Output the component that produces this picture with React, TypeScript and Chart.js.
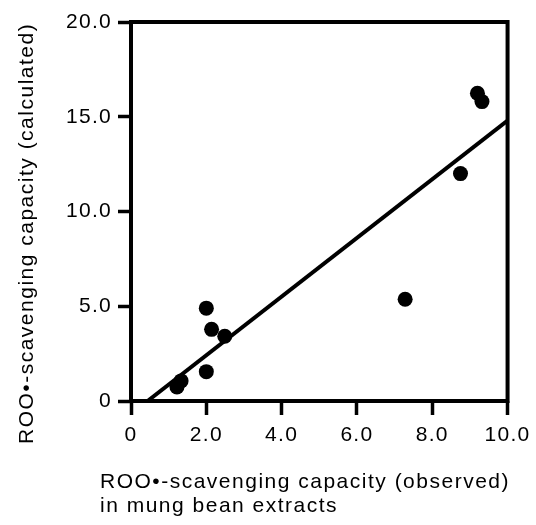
import React, { useEffect, useRef } from "react";
import { Chart, registerables } from "chart.js";

Chart.register(...registerables);

// Observed (x) vs calculated (y) ROO•-scavenging capacity
const observedValues = [1.22, 1.33, 2.0, 2.0, 2.14, 2.49, 7.28, 8.75, 9.2, 9.32];
const calculatedValues = [0.74, 1.06, 1.55, 4.9, 3.78, 3.42, 5.37, 12.0, 16.24, 15.8];

// Regression line end points
const fitX = [0.44, 10];
const fitY = [0, 14.8];

const xTickValues = [0, 2, 4, 6, 8, 10];
const xTickLabels = ["0", "2.0", "4.0", "6.0", "8.0", "10.0"];
const yTickValues = [0, 5, 10, 15, 20];
const yTickLabels = ["0", "5.0", "10.0", "15.0", "20.0"];

const xTitleLines = ["ROO•-scavenging capacity (observed)", "in mung bean extracts"];
const yTitle = "ROO•-scavenging capacity (calculated)";

const FONT = '"Liberation Sans", Arial, Helvetica, sans-serif';
const LS = "1.3px";
const TITLE_LS = "1.5px";

export default function App() {
  const ref = useRef<HTMLCanvasElement | null>(null);

  useEffect(() => {
    if (!ref.current) return;
    const deco = {
      id: "deco",
      beforeDraw(chart: any) {
        chart.ctx.letterSpacing = LS;
      },
      afterDraw(chart: any) {
        const ctx = chart.ctx as CanvasRenderingContext2D;
        const a = chart.chartArea;
        ctx.save();
        ctx.strokeStyle = "#000";
        ctx.lineWidth = 4;
        ctx.strokeRect(a.left, a.top, a.right - a.left, a.bottom - a.top);
        ctx.fillStyle = "#000";
        ctx.font = `21px ${FONT}`;
        (ctx as any).letterSpacing = TITLE_LS;
        ctx.textAlign = "left";
        ctx.textBaseline = "alphabetic";
        ctx.fillText(xTitleLines[0], 100, 488);
        ctx.fillText(xTitleLines[1], 100, 512);
        ctx.translate(33, 444);
        ctx.rotate(-Math.PI / 2);
        ctx.fillText(yTitle, 0, 0);
        ctx.restore();
        (ctx as any).letterSpacing = "0px";
      },
    };

    const chart = new Chart(ref.current, {
      type: "scatter",
      data: {
        datasets: [
          {
            type: "scatter",
            data: observedValues.map((x, i) => ({ x, y: calculatedValues[i] })),
            backgroundColor: "#000",
            borderColor: "#000",
            borderWidth: 0,
            pointRadius: 7.5,
          },
          {
            type: "line",
            data: fitX.map((x, i) => ({ x, y: fitY[i] })),
            borderColor: "#000",
            borderWidth: 4,
            pointRadius: 0,
            fill: false,
          } as any,
        ],
      },
      options: {
        responsive: false,
        animation: false,
        layout: { padding: { top: 22, right: 24, left: 0, bottom: 0 } },
        plugins: { legend: { display: false }, tooltip: { enabled: false }, title: { display: false } },
        scales: {
          x: {
            type: "linear",
            min: 0,
            max: 10,
            afterFit(scale: any) {
              scale.height = 124;
            },
            afterBuildTicks(scale: any) {
              scale.ticks = xTickValues.map((v) => ({ value: v }));
            },
            ticks: {
              autoSkip: false,
              maxRotation: 0,
              padding: 8,
              color: "#000",
              font: { size: 21, family: FONT },
              callback: (v: any) => xTickLabels[xTickValues.indexOf(Number(v))] ?? "",
            },
            grid: {
              drawOnChartArea: false,
              drawTicks: true,
              tickLength: 14,
              tickWidth: 3.5,
              tickColor: "#000",
            },
            border: { display: false },
          },
          y: {
            type: "linear",
            min: 0,
            max: 20,
            afterFit(scale: any) {
              scale.width = 131;
            },
            afterBuildTicks(scale: any) {
              scale.ticks = yTickValues.map((v) => ({ value: v }));
            },
            ticks: {
              autoSkip: false,
              padding: 6,
              color: "#000",
              font: { size: 21, family: FONT },
              callback: (v: any) => yTickLabels[yTickValues.indexOf(Number(v))] ?? "",
            },
            grid: {
              drawOnChartArea: false,
              drawTicks: true,
              tickLength: 13,
              tickWidth: 3.5,
              tickColor: "#000",
            },
            border: { display: false },
          },
        },
      },
      plugins: [deco],
    });
    return () => chart.destroy();
  }, []);

  return (
    <div style={{ position: "fixed", left: 0, top: 0, width: 536, height: 525, background: "#fff" }}>
      <canvas ref={ref} width={536} height={525} style={{ display: "block", width: 536, height: 525 }} />
    </div>
  );
}
